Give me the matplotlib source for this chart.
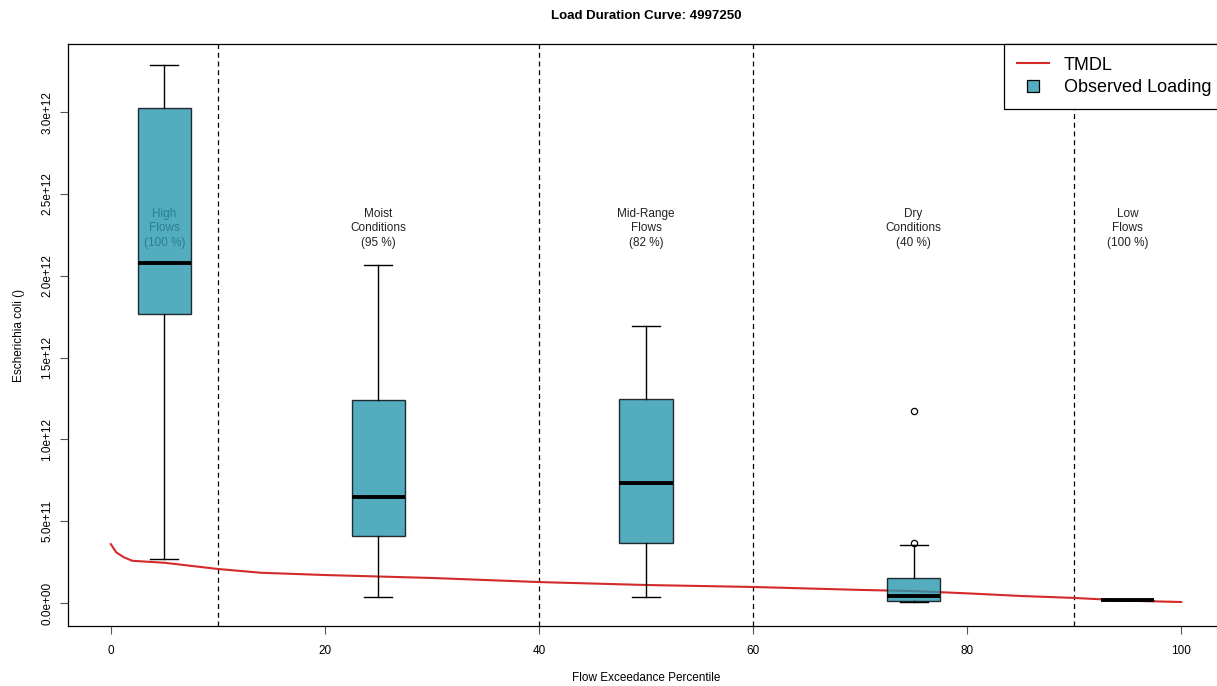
import matplotlib
matplotlib.use("Agg")
import matplotlib.pyplot as plt
from matplotlib.lines import Line2D
from matplotlib.ticker import FuncFormatter

plt.rcParams["font.family"] = ["Liberation Sans", "DejaVu Sans"]

# ---------------------------------------------------------------- data
# TMDL curve (flow exceedance percentile vs allowable load)
tmdl_pct = [0, 0.5, 1.2, 2, 5, 10, 14, 20, 30, 40, 50, 60, 70, 75, 80, 85, 90, 95, 100]
tmdl_load = [0.36e12, 0.31e12, 0.28e12, 0.258e12, 0.246e12, 0.208e12, 0.185e12,
             0.171e12, 0.153e12, 0.128e12, 0.110e12, 0.098e12, 0.080e12, 0.073e12,
             0.059e12, 0.043e12, 0.031e12, 0.014e12, 0.006e12]

# observed loading boxplots per flow zone
zone_pos = [5, 25, 50, 75, 95]
zone_names = ["High\nFlows", "Moist\nConditions", "Mid-Range\nFlows",
              "Dry\nConditions", "Low\nFlows"]
zone_pct = ["100 %", "95 %", "82 %", "40 %", "100 %"]
box_whislo = [0.269e12, 0.037e12, 0.037e12, 0.006e12, 0.020e12]
box_q1 = [1.767e12, 0.410e12, 0.367e12, 0.014e12, 0.020e12]
box_med = [2.078e12, 0.648e12, 0.733e12, 0.045e12, 0.020e12]
box_q3 = [3.026e12, 1.241e12, 1.247e12, 0.153e12, 0.020e12]
box_whishi = [3.289e12, 2.066e12, 1.693e12, 0.355e12, 0.020e12]
box_fliers = [[], [], [], [1.174e12, 0.367e12], []]

zone_breaks = [10, 40, 60, 90]

BOX_COLOR = "#2997B0"   # drawn with alpha so it blends to ~#54ACC0
LINE_COLOR = "#D42A2A"

# ---------------------------------------------------------------- plot
fig = plt.figure(figsize=(12.17, 6.86), dpi=100)
# R-style plot region runs slightly past the right edge of the device
ax = fig.add_axes([68 / 1217, 60 / 686, (1224 - 68) / 1217, 582 / 686])

ax.plot(tmdl_pct, tmdl_load, color=LINE_COLOR, lw=1.5, zorder=1)

for x in zone_breaks:
    ax.axvline(x, color="black", ls=(0, (4, 3)), lw=0.9, zorder=0)

for x, name, pct in zip(zone_pos, zone_names, zone_pct):
    ax.text(x, 2.29e12, f"{name}\n({pct})", ha="center", va="center",
            fontsize=8.5, linespacing=1.25, color="#222222", zorder=1)

stats = []
for i in range(len(zone_pos)):
    stats.append({"whislo": box_whislo[i], "q1": box_q1[i], "med": box_med[i],
                  "q3": box_q3[i], "whishi": box_whishi[i],
                  "fliers": box_fliers[i]})

ax.bxp(stats, positions=zone_pos, widths=5, patch_artist=True, manage_ticks=False,
       boxprops=dict(facecolor=BOX_COLOR, edgecolor="black", lw=1, alpha=0.8),
       medianprops=dict(color="black", lw=2.8),
       whiskerprops=dict(color="black", lw=1),
       capprops=dict(color="black", lw=1),
       capwidths=2.6,
       flierprops=dict(marker="o", markersize=4.5, markerfacecolor="none",
                       markeredgecolor="black", markeredgewidth=0.9),
       zorder=2)

ax.set_xlim(-4, 104)
ax.set_ylim(-1.406e11, 3.417e12)
ax.set_xticks([0, 20, 40, 60, 80, 100])
ax.set_yticks([0, 0.5e12, 1e12, 1.5e12, 2e12, 2.5e12, 3e12])
ax.yaxis.set_major_formatter(FuncFormatter(lambda v, p: f"{v:.1e}"))
ax.tick_params(axis="both", direction="out", length=5.5, width=0.8,
               labelsize=8.5, color="#555555")
ax.tick_params(axis="x", pad=8)
ax.tick_params(axis="y", pad=5)
for lab in ax.get_yticklabels():
    lab.set_rotation(90)
    lab.set_va("center")
for s in ax.spines.values():
    s.set_linewidth(0.9)

ax.set_xlabel("Flow Exceedance Percentile", fontsize=8.5, labelpad=11)
ax.set_ylabel("Escherichia coli ()", fontsize=8.5, labelpad=12)
ax.set_title("Load Duration Curve: 4997250", fontsize=9.5, fontweight="bold", pad=18)

handles = [Line2D([], [], color=LINE_COLOR, lw=1.5),
           Line2D([], [], ls="none", marker="s", markersize=9,
                  markerfacecolor="#54ACC0", markeredgecolor="black",
                  markeredgewidth=0.9)]
leg = ax.legend(handles, ["TMDL", "Observed Loading"], loc="upper right",
                borderaxespad=0, fontsize=13, fancybox=False, framealpha=1,
                edgecolor="black", handlelength=1.8, handletextpad=0.8,
                borderpad=0.7, labelspacing=0.3)
leg.get_frame().set_linewidth(0.9)

fig.savefig("out.png", dpi=100)
